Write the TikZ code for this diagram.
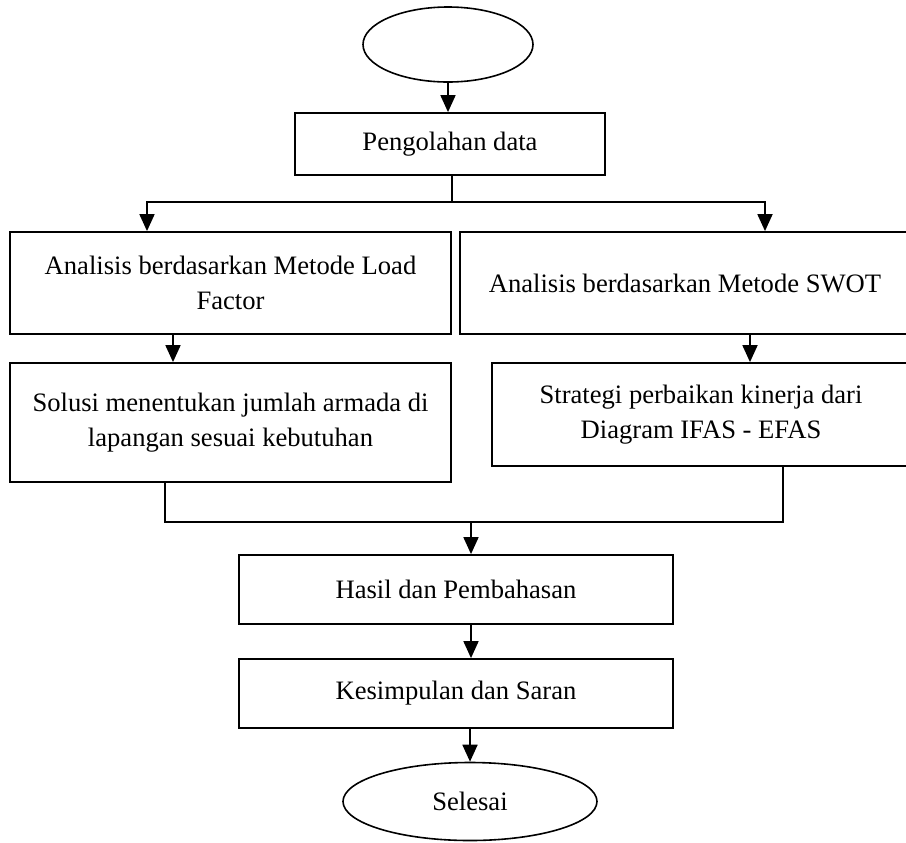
\documentclass[tikz,border=0pt]{standalone}
\usepackage{fontspec}
\setmainfont{Liberation Serif}
\usepackage{tikz}
\usetikzlibrary{arrows.meta,positioning,shapes.geometric}

\begin{document}
\begin{tikzpicture}[x=0.5pt, y=-0.5pt,
  kotak/.style={draw, rectangle, line width=0.9pt, align=center, inner sep=2pt, font=\fontsize{13.3}{17.5}\selectfont},
  oval/.style={draw, ellipse, line width=0.8pt, inner sep=0pt, font=\fontsize{13.3}{17.5}\selectfont},
  panah/.style={-{Triangle[length=8.5pt,width=7.5pt]}, line width=0.9pt},
  garis/.style={line width=0.9pt}]
  \useasboundingbox (0,0) rectangle (906,842);

  % mulai dan pengolahan data
  \node[oval, minimum width=85pt, minimum height=37.5pt] (mulai) at (448,44.5) {};
  \node[kotak, minimum width=155pt, minimum height=31pt] (olah) at (450,144) {Pengolahan data};

  % analisis
  \node[kotak, minimum width=220.5pt, minimum height=51pt] (lf) at (230.5,283) {Analisis berdasarkan Metode Load\\Factor};
  \node[kotak, minimum width=225pt, minimum height=51pt] (swot) at (685,283) {Analisis berdasarkan Metode SWOT};

  % hasil analisis
  \node[kotak, minimum width=220.5pt, minimum height=59.5pt] (solusi) at (230.5,422.5) {Solusi menentukan jumlah armada di\\lapangan sesuai kebutuhan};
  \node[kotak, minimum width=209pt, minimum height=51.5pt] (ifas) at (701,414.5) {Strategi perbaikan kinerja dari\\Diagram IFAS - EFAS};

  % akhir
  \node[kotak, minimum width=217pt, minimum height=34.5pt] (hasil) at (456,589.5) {Hasil dan Pembahasan};
  \node[kotak, minimum width=217pt, minimum height=34.5pt] (simpul) at (456,693.5) {Kesimpulan dan Saran};
  \node[oval, minimum width=127pt, minimum height=39pt] (selesai) at (470,801.5) {Selesai};

  \coordinate (bagi) at (452,202);
  \coordinate (gabung) at (471,522);

  \draw[panah] (mulai.south) -- (mulai.south |- olah.north);
  \draw[garis] (olah.south -| bagi) -- (bagi);
  \draw[panah] (bagi) -| ([xshift=-41.75pt]lf.north);
  \draw[panah] (bagi) -| ([xshift=40pt]swot.north);
  \draw[panah] ([xshift=-28.75pt]lf.south) -- ([xshift=-28.75pt]lf.south |- solusi.north);
  \draw[panah] ([xshift=32.5pt]swot.south) -- ([xshift=32.5pt]swot.south |- ifas.north);
  \draw[garis] ([xshift=-32.75pt]solusi.south) |- (gabung) -| ([xshift=41pt]ifas.south);
  \draw[panah] (gabung) -- (gabung |- hasil.north);
  \draw[panah] (hasil.south -| gabung) -- (simpul.north -| gabung);
  \draw[panah] (simpul.south -| selesai.north) -- (selesai.north);
\end{tikzpicture}
\end{document}
